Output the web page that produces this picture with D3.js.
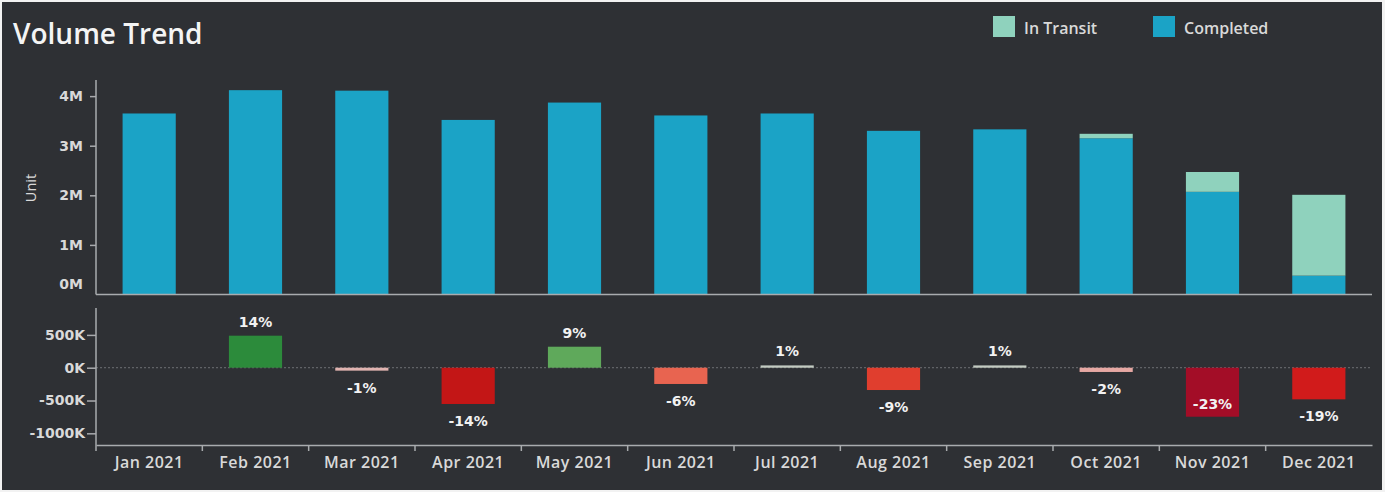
<!DOCTYPE html>
<html>
<head>
<meta charset="utf-8">
<script src="https://cdn.jsdelivr.net/npm/d3@7"></script>
<style>
  html, body { margin: 0; padding: 0; background: #f2f2f2; }
  svg { display: block; }
  text { font-family: "Open Sans", "Noto Sans", sans-serif; }
  .num { font-family: "DejaVu Sans", "Open Sans", sans-serif; }
</style>
</head>
<body>
<svg id="chart" width="1385" height="492"></svg>
<script>
// Monthly volume (millions of units), split by shipment status
const months = ["Jan 2021","Feb 2021","Mar 2021","Apr 2021","May 2021","Jun 2021",
                "Jul 2021","Aug 2021","Sep 2021","Oct 2021","Nov 2021","Dec 2021"];
const completed = [3.65, 4.12, 4.11, 3.52, 3.87, 3.61, 3.65, 3.30, 3.33, 3.15, 2.07, 0.38];
const inTransit = [0, 0, 0, 0, 0, 0, 0, 0, 0, 0.09, 0.40, 1.63];
// Month-over-month change (thousands of units) and its percentage label
const change    = [null, 488, -45, -553, 320, -248, 35, -340, 35, -65, -747, -482];
const changePct = [null, 14, -1, -14, 9, -6, 1, -9, 1, -2, -23, -19];
const upperTicks = [0, 1, 2, 3, 4];
const lowerTicks = [500, 0, -500, -1000];
const seriesNames = ["In Transit", "Completed"];

const svg = d3.select("#chart");
const W = 1385, H = 492;
const bg = "#2e3034", axisCol = "#a9abae", textCol = "#d9d9d9";
const colCompleted = "#1ba3c6", colTransit = "#8fd2bd";

svg.append("rect").attr("x", 2).attr("y", 2).attr("width", W - 5).attr("height", H - 4)
  .attr("fill", bg);

const left = 96, right = 1372;

const x = d3.scaleBand().domain(months).range([left, right])
  .paddingInner(0.5).paddingOuter(0.25);

// ---- upper panel: stacked volume bars ----
const y1 = d3.scaleLinear().domain([0, 4.325]).range([294.5, 80]);

const rows = months.map((m, i) => ({ m, completed: completed[i], transit: inTransit[i] }));
const stack = d3.stack().keys(["completed", "transit"])(rows);
const fills = { completed: colCompleted, transit: colTransit };

svg.append("g").selectAll("g").data(stack).join("g")
  .attr("fill", d => fills[d.key])
  .selectAll("rect").data(d => d.filter(p => p[1] - p[0] > 0)).join("rect")
  .attr("x", d => x(d.data.m))
  .attr("width", x.bandwidth())
  .attr("y", d => y1(d[1]))
  .attr("height", d => y1(d[0]) - y1(d[1]));

const yAx1 = svg.append("g").attr("transform", `translate(${left},0)`)
  .call(d3.axisLeft(y1).tickValues(upperTicks).tickSize(6).tickPadding(7)
    .tickFormat(d => d + "M"));
yAx1.select(".domain").remove();
yAx1.selectAll("line").attr("stroke", axisCol).attr("stroke-width", 1.5);
yAx1.selectAll("text").attr("class", "num").attr("fill", textCol)
  .attr("font-size", 14).attr("font-weight", 700);
yAx1.selectAll(".tick").filter(d => d === 0).each(function () {
  d3.select(this).select("line").remove();
  d3.select(this).select("text").attr("dy", "-0.4em").attr("x", -13);
});

svg.append("line").attr("x1", left).attr("x2", left).attr("y1", 80).attr("y2", 294.5)
  .attr("stroke", axisCol).attr("stroke-width", 1.5);
svg.append("line").attr("x1", left).attr("x2", right).attr("y1", y1(0)).attr("y2", y1(0))
  .attr("stroke", axisCol).attr("stroke-width", 1.5);

svg.append("text").attr("transform", `translate(36,188) rotate(-90)`)
  .attr("text-anchor", "middle").attr("fill", textCol).attr("font-size", 14.5)
  .text("Unit");

// ---- lower panel: month-over-month change ----
const y2 = d3.scaleLinear().domain([-1178, 910]).range([445, 308]);
const changeColor = d3.scaleLinear()
  .domain([-750, -550, -480, -340, -250, -60, 0, 320, 490])
  .range(["#a20d27", "#c41616", "#d11b1b", "#e03e2e", "#e8634f", "#e6aaa5", "#cfcfcf", "#5fa95b", "#2b8b3b"]);

const diffs = months.map((m, i) => ({ m, v: change[i], p: changePct[i] })).filter(d => d.v !== null);

svg.append("line").attr("x1", left).attr("x2", right).attr("y1", y2(0)).attr("y2", y2(0))
  .attr("stroke", "#6e7074").attr("stroke-width", 1).attr("stroke-dasharray", "2,2");

svg.append("g").selectAll("rect").data(diffs).join("rect")
  .attr("x", d => x(d.m))
  .attr("width", x.bandwidth())
  .attr("y", d => y2(Math.max(0, d.v)))
  .attr("height", d => Math.abs(y2(d.v) - y2(0)))
  .attr("fill", d => changeColor(d.v));

svg.append("g").selectAll("text").data(diffs).join("text")
  .attr("class", "num")
  .attr("x", d => x(d.m) + x.bandwidth() / 2)
  .attr("y", d => {
    if (d.v >= 0) return y2(d.v) - 14 + 5;
    const below = y2(d.v) + 17;
    return (below > 425 ? y2(d.v) - 13 : below) + 5;
  })
  .attr("text-anchor", "middle").attr("fill", "#f2f2f2")
  .attr("font-size", 14).attr("font-weight", 700)
  .text(d => d.p + "%");

const yAx2 = svg.append("g").attr("transform", `translate(${left},0)`)
  .call(d3.axisLeft(y2).tickValues(lowerTicks).tickSize(9).tickPadding(2)
    .tickFormat(d => d + "K"));
yAx2.select(".domain").remove();
yAx2.selectAll("line").attr("stroke", axisCol).attr("stroke-width", 1.5);
yAx2.selectAll("text").attr("class", "num").attr("fill", textCol)
  .attr("font-size", 14).attr("font-weight", 700);

svg.append("line").attr("x1", left).attr("x2", left).attr("y1", 308).attr("y2", 445)
  .attr("stroke", axisCol).attr("stroke-width", 1.5);

// bottom category axis with ticks at the band boundaries
const xAx = svg.append("g").attr("transform", "translate(0,445)")
  .call(d3.axisBottom(x).tickSize(0).tickPadding(12));
xAx.select(".domain").attr("stroke", axisCol).attr("stroke-width", 1.5);
xAx.selectAll("text").attr("fill", textCol).attr("font-size", 16).attr("font-weight", 600)
  .attr("letter-spacing", 0.5);
svg.append("g").selectAll("line").data(months).join("line")
  .attr("x1", d => x(d) - x.step() * x.paddingOuter())
  .attr("x2", d => x(d) - x.step() * x.paddingOuter())
  .attr("y1", 445).attr("y2", 451)
  .attr("stroke", axisCol).attr("stroke-width", 1.5);

// ---- title and legend ----
svg.append("text").attr("x", 13).attr("y", 44).attr("fill", "#f4f4f4")
  .attr("font-size", 28).attr("font-weight", 600).text("Volume Trend");

const legend = svg.append("g").selectAll("g").data(seriesNames).join("g")
  .attr("transform", (d, i) => `translate(${993 + i * 160},16)`);
legend.append("rect").attr("width", 22).attr("height", 21)
  .attr("fill", d => d === "Completed" ? colCompleted : colTransit);
legend.append("text").attr("x", 31).attr("y", 17.5).attr("fill", textCol)
  .attr("font-size", 16).attr("font-weight", 600).text(d => d);
</script>
</body>
</html>
